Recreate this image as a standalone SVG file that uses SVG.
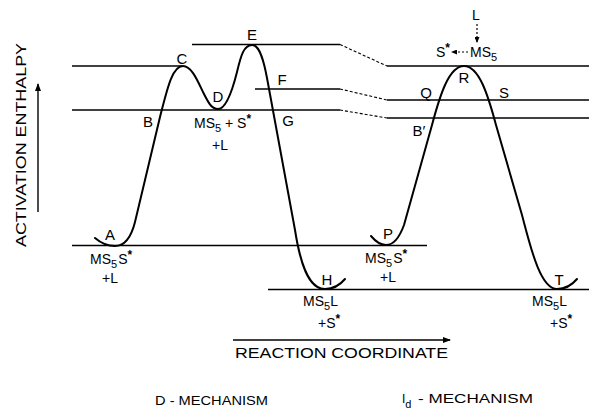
<svg xmlns="http://www.w3.org/2000/svg" width="589" height="410" viewBox="0 0 589 410">
<style>
.ln{stroke:#000;stroke-width:1.4;fill:none}
.cv{stroke:#000;stroke-width:2;fill:none;stroke-linejoin:round;stroke-linecap:round}
.ds{stroke:#000;stroke-width:1.1;fill:none;stroke-dasharray:3,2}
.dt{stroke:#000;stroke-width:1.2;fill:none;stroke-dasharray:2,2}
text{font-family:"Liberation Sans",Arial,sans-serif;fill:#000}
.pt{font-size:15px;text-anchor:middle}
.sp{font-size:14px}
.sb{font-size:11px}
.st{font-size:12px;font-weight:bold}
.ax{font-size:15px}
.tt{font-size:12px}
</style>
<defs>
<marker id="ah" markerWidth="8" markerHeight="6" refX="7" refY="3" orient="auto" markerUnits="userSpaceOnUse">
<path d="M0,0 L8,3 L0,6 Z" fill="#000"/>
</marker>
<marker id="sah" markerWidth="6" markerHeight="5" refX="5" refY="2.5" orient="auto" markerUnits="userSpaceOnUse">
<path d="M0,0 L6,2.5 L0,5 Z" fill="#000"/>
</marker>
</defs>
<g id="levels">
<line class="ln" x1="72" y1="66" x2="182" y2="66"/>
<line class="ln" x1="192" y1="44.5" x2="340" y2="44.5"/>
<line class="ln" x1="255" y1="89" x2="340" y2="89"/>
<line class="ln" x1="72" y1="110" x2="340" y2="110"/>
<line class="ln" x1="387" y1="66" x2="589" y2="66"/>
<line class="ln" x1="387" y1="100" x2="589" y2="100"/>
<line class="ln" x1="387" y1="118" x2="589" y2="118"/>
<line class="ln" x1="72" y1="245.5" x2="427" y2="245.5"/>
<line class="ln" x1="268" y1="289.5" x2="589" y2="289.5"/>
</g>
<g id="connectors">
<line class="ds" x1="340" y1="44.5" x2="387" y2="66"/>
<line class="ds" x1="340" y1="89" x2="387" y2="100"/>
<line class="ds" x1="340" y1="110" x2="387" y2="118"/>
<line class="dt" x1="477" y1="24" x2="477" y2="42" marker-end="url(#sah)"/>
<line class="dt" x1="468" y1="52" x2="452" y2="52" marker-end="url(#sah)"/>
</g>
<g id="curve-D">
<path class="cv" d="M95,238 C102,244 108,246 115,246 C125,246 131,238 135,222 L160,117 C167,90 172,66 183,66 C192,66 198,82 204,94 C209,104 212,109 218,109 C226,109 232,92 237,72 C241,55 244,45 252,45 C260,45 264,62 267,78 L295,230 C300,262 308,289 325,289 C333,289 340,285 345,279"/>
</g>
<g id="curve-Id">
<path class="cv" d="M371,236 C376,242 380,245 386,245 C395,245 400,236 404,225 L432,125 C440,95 449,66 464,66 C479,66 488,95 496,125 L522,215 C530,245 540,289 557,289 C565,289 572,285 577,279"/>
</g>
<g id="axes">
<line class="ln" x1="38" y1="212" x2="38" y2="84" marker-end="url(#ah)"/>
<line class="ln" x1="233" y1="340" x2="450" y2="340" marker-end="url(#ah)"/>
<text class="ax" transform="translate(26,247) rotate(-90)" textLength="204" lengthAdjust="spacingAndGlyphs">ACTIVATION ENTHALPY</text>
<text class="ax" x="235" y="358" textLength="213" lengthAdjust="spacingAndGlyphs">REACTION COORDINATE</text>
</g>
<g id="points">
<text class="pt" x="110" y="240">A</text>
<text class="pt" x="148" y="127">B</text>
<text class="pt" x="182" y="64">C</text>
<text class="pt" x="218" y="102">D</text>
<text class="pt" x="252" y="40">E</text>
<text class="pt" x="282" y="85">F</text>
<text class="pt" x="288" y="126">G</text>
<text class="pt" x="327" y="285">H</text>
<text class="pt" x="388" y="239">P</text>
<text class="pt" x="426" y="98">Q</text>
<text class="pt" x="464" y="83">R</text>
<text class="pt" x="504" y="98">S</text>
<text class="pt" x="419" y="136">B′</text>
<text class="pt" x="559" y="285">T</text>
</g>
<g id="species">
<text class="sp" x="90" y="264">MS<tspan class="sb" dy="4">5</tspan><tspan dy="-4" dx="1">S</tspan><tspan class="st" dy="-5">*</tspan></text>
<text class="sp" x="102" y="283">+L</text>
<text class="sp" x="194" y="128">MS<tspan class="sb" dy="4">5</tspan><tspan dy="-4"> + S</tspan><tspan class="st" dy="-5">*</tspan></text>
<text class="sp" x="212" y="150">+L</text>
<text class="sp" x="303" y="306">MS<tspan class="sb" dy="4">5</tspan><tspan dy="-4">L</tspan></text>
<text class="sp" x="318" y="328">+S<tspan class="st" dy="-5">*</tspan></text>
<text class="sp" x="365" y="263">MS<tspan class="sb" dy="4">5</tspan><tspan dy="-4" dx="1">S</tspan><tspan class="st" dy="-5">*</tspan></text>
<text class="sp" x="380" y="282">+L</text>
<text class="sp" x="532" y="306">MS<tspan class="sb" dy="4">5</tspan><tspan dy="-4">L</tspan></text>
<text class="sp" x="550" y="328">+S<tspan class="st" dy="-5">*</tspan></text>
<text class="sp" x="472" y="20">L</text>
<text class="sp" x="436" y="57">S<tspan class="st" dy="-5">*</tspan></text>
<text class="sp" x="470" y="57">MS<tspan class="sb" dy="4">5</tspan></text>
</g>
<g id="titles">
<text class="tt" x="155" y="405" textLength="113" lengthAdjust="spacingAndGlyphs">D - MECHANISM</text>
<text class="tt" x="402" y="403" font-size="14">I<tspan class="sb" dy="5">d</tspan></text>
<text class="tt" x="418" y="403" textLength="115" lengthAdjust="spacingAndGlyphs">- MECHANISM</text>
</g>
</svg>
